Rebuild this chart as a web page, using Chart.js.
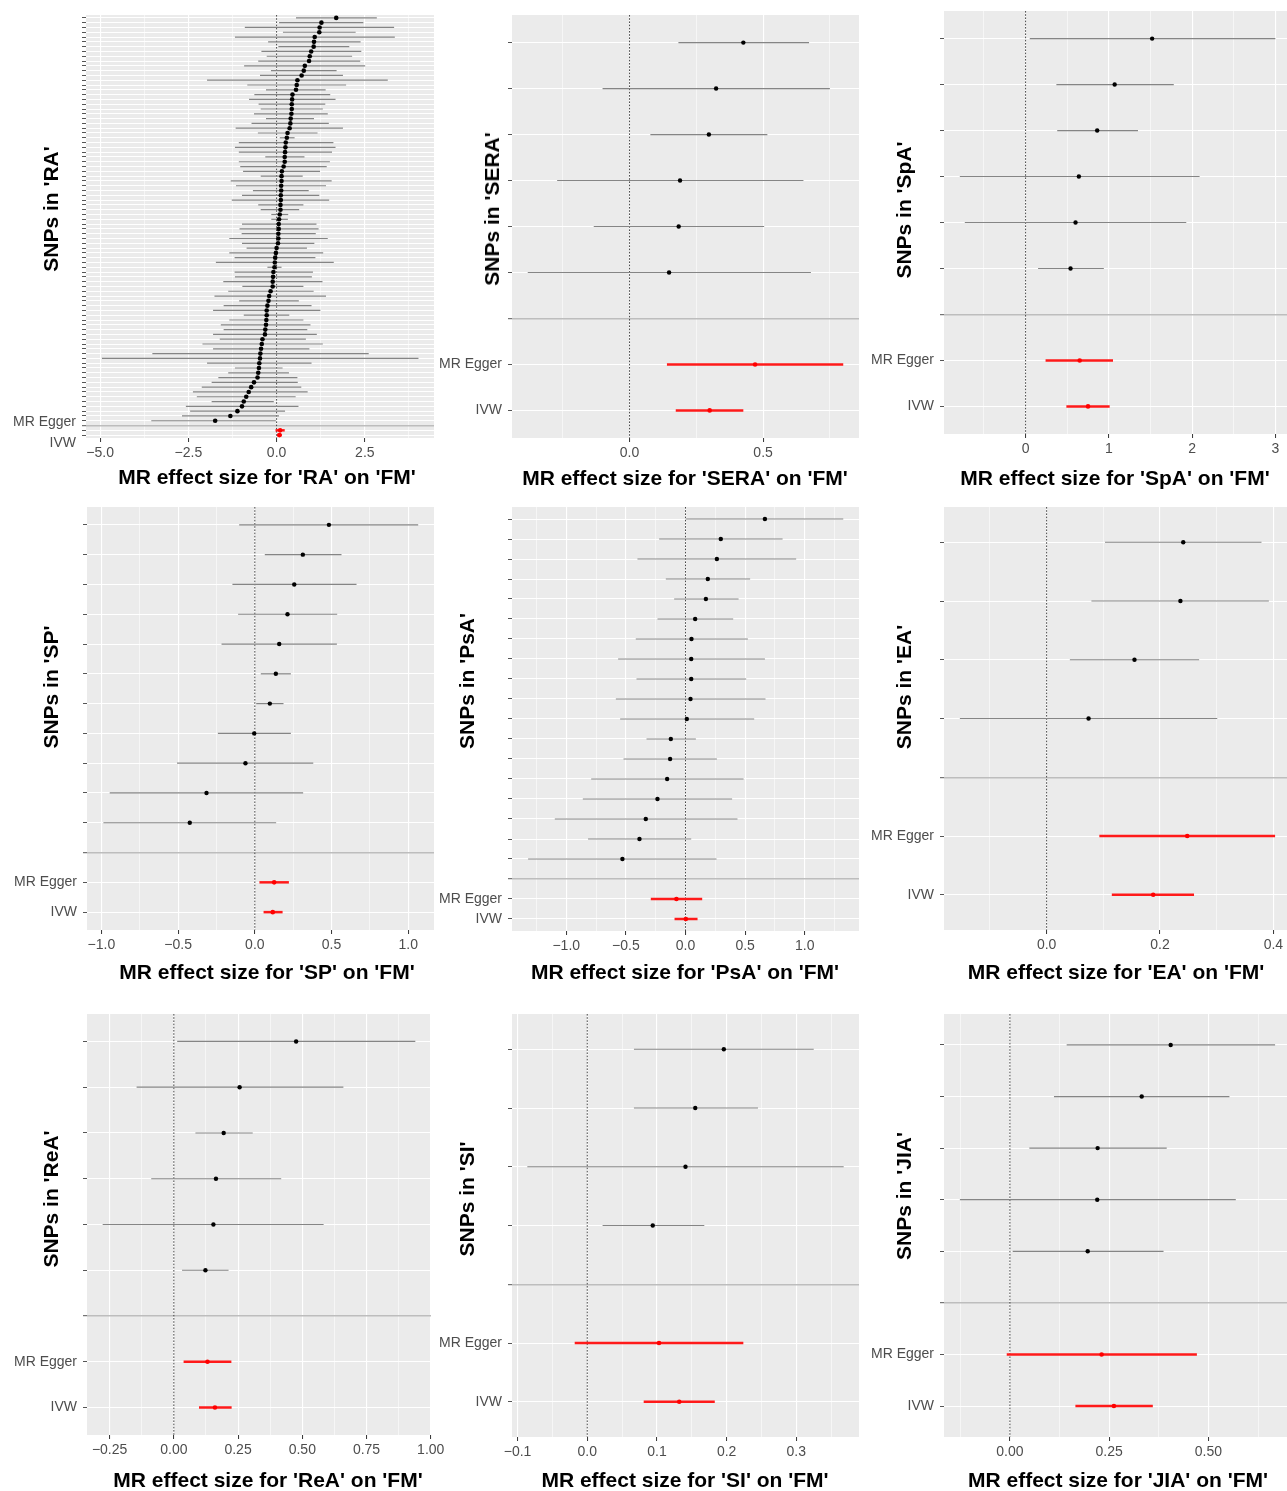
<!DOCTYPE html>
<html><head><meta charset="utf-8">
<script src="https://cdn.jsdelivr.net/npm/chart.js@4.4.1/dist/chart.umd.min.js"></script>
<style>
html,body{margin:0;padding:0;background:#fff;width:1287px;height:1491px;overflow:hidden;}
body{position:relative;}
canvas{position:absolute;}
.xt,.yt{position:absolute;font:bold 21px "Liberation Sans",Arial,sans-serif;color:#000;white-space:nowrap;z-index:5;}
.xt{transform:translate(-50%,-50%);}
.yt{transform:translate(-50%,-50%) rotate(-90deg);}
</style></head><body>
<script>
// ---------------- DATA ----------------
const exposures = ['RA','SERA','SpA','SP','PsA','EA','ReA','SI','JIA'];
const outcome = 'FM';
const methods = ['MR Egger','IVW'];

// RA (85 SNPs, top to bottom)
const RA_b  = [1.69,1.27,1.22,1.21,1.08,1.06,1.05,0.98,0.94,0.92,0.80,0.77,0.71,0.59,0.57,0.55,0.45,0.44,0.43,0.43,0.42,0.40,0.39,0.37,0.31,0.29,0.26,0.25,0.24,0.23,0.23,0.20,0.15,0.14,0.14,0.13,0.13,0.12,0.12,0.11,0.11,0.09,0.07,0.06,0.06,0.05,0.05,0.04,0.00,-0.02,-0.04,-0.05,-0.06,-0.09,-0.10,-0.11,-0.11,-0.17,-0.21,-0.23,-0.26,-0.28,-0.28,-0.29,-0.30,-0.32,-0.33,-0.40,-0.42,-0.44,-0.46,-0.47,-0.49,-0.50,-0.52,-0.54,-0.64,-0.72,-0.79,-0.86,-0.93,-0.98,-1.11,-1.31,-1.74];
const RA_lo = [0.55,0.07,-0.90,0.18,-1.18,-0.24,0.05,-0.43,-0.28,-0.52,-0.92,-0.16,-0.47,-1.97,-0.83,-0.30,-0.63,-0.78,-0.51,-0.45,-0.64,-0.30,-0.71,-1.16,-0.53,0.09,-1.07,-1.18,-1.07,-0.32,-1.07,-1.03,-0.95,-0.45,-1.30,-1.15,-0.67,-0.98,-1.27,-0.52,-0.45,-0.15,-0.15,-0.98,-1.05,-0.99,-1.34,-0.98,-0.85,-1.34,-1.19,-1.72,-0.26,-1.19,-1.18,-1.51,-0.97,-1.37,-1.76,-1.06,-1.50,-1.80,-0.93,-1.34,-1.58,-1.50,-1.80,-1.61,-2.10,-1.80,-3.52,-4.95,-1.97,-1.18,-1.37,-1.65,-1.84,-2.12,-2.37,-2.26,-1.84,-2.57,-2.45,-2.68,-3.55];
const RA_hi = [2.84,2.46,3.33,2.24,3.35,2.38,2.06,2.40,2.14,2.37,2.51,1.70,1.88,3.15,1.97,1.39,1.52,1.67,1.38,1.31,1.45,1.06,1.48,1.88,1.16,0.51,1.61,1.67,1.57,0.79,1.51,1.42,1.23,0.74,1.56,1.40,0.91,1.21,1.49,0.76,0.64,0.33,0.32,1.13,1.19,1.11,1.45,1.07,0.86,1.32,1.10,1.62,0.14,1.03,1.00,1.30,0.76,1.05,1.40,0.63,0.99,1.24,0.36,0.76,0.96,0.87,1.14,0.83,1.31,0.93,2.61,4.02,0.99,0.17,0.35,0.59,0.60,0.70,0.88,0.54,-0.08,0.62,0.24,0.07,-0.02];
const RA_mr_b = [0.10,0.08], RA_mr_lo = [-0.03,0.01], RA_mr_hi = [0.23,0.15];

const SERA_b  = [0.426,0.324,0.297,0.189,0.184,0.148];
const SERA_lo = [0.183,-0.101,0.078,-0.271,-0.134,-0.381];
const SERA_hi = [0.672,0.750,0.516,0.651,0.504,0.679];
const SERA_mr_b = [0.470,0.300], SERA_mr_lo = [0.140,0.173], SERA_mr_hi = [0.800,0.426];

const SpA_b  = [1.52,1.07,0.86,0.64,0.60,0.54];
const SpA_lo = [0.05,0.37,0.38,-0.79,-0.73,0.15];
const SpA_hi = [3.00,1.78,1.35,2.09,1.93,0.94];
const SpA_mr_b = [0.65,0.75], SpA_mr_lo = [0.24,0.49], SpA_mr_hi = [1.05,1.01];

const SP_b  = [0.483,0.313,0.257,0.213,0.159,0.137,0.098,-0.004,-0.061,-0.315,-0.424];
const SP_lo = [-0.102,0.065,-0.146,-0.109,-0.217,0.039,0.009,-0.241,-0.507,-0.946,-0.987];
const SP_hi = [1.065,0.565,0.663,0.537,0.535,0.235,0.187,0.235,0.381,0.315,0.139];
const SP_mr_b = [0.126,0.117], SP_mr_lo = [0.030,0.057], SP_mr_hi = [0.222,0.181];

const PsA_b  = [0.666,0.296,0.263,0.187,0.171,0.081,0.050,0.048,0.048,0.042,0.011,-0.123,-0.129,-0.154,-0.235,-0.333,-0.386,-0.529];
const PsA_lo = [0.000,-0.221,-0.403,-0.165,-0.095,-0.235,-0.417,-0.565,-0.411,-0.584,-0.548,-0.327,-0.520,-0.791,-0.861,-1.096,-0.817,-1.320];
const PsA_hi = [1.323,0.814,0.928,0.542,0.445,0.400,0.523,0.666,0.509,0.671,0.576,0.087,0.263,0.487,0.391,0.436,0.048,0.260];
const PsA_mr_b = [-0.076,0.003], PsA_mr_lo = [-0.291,-0.092], PsA_mr_hi = [0.140,0.101];

const EA_b  = [0.241,0.236,0.155,0.074];
const EA_lo = [0.103,0.079,0.041,-0.153];
const EA_hi = [0.379,0.392,0.269,0.301];
const EA_mr_b = [0.248,0.188], EA_mr_lo = [0.093,0.115], EA_mr_hi = [0.403,0.260];

const ReA_b  = [0.476,0.256,0.194,0.164,0.154,0.123];
const ReA_lo = [0.013,-0.145,0.084,-0.088,-0.277,0.032];
const ReA_hi = [0.940,0.660,0.307,0.418,0.583,0.213];
const ReA_mr_b = [0.131,0.160], ReA_mr_lo = [0.038,0.098], ReA_mr_hi = [0.224,0.225];

const SI_b  = [0.196,0.155,0.141,0.094];
const SI_lo = [0.067,0.067,-0.086,0.022];
const SI_hi = [0.325,0.245,0.368,0.168];
const SI_mr_b = [0.103,0.132], SI_mr_lo = [-0.018,0.081], SI_mr_hi = [0.224,0.183];

const JIA_b  = [0.405,0.332,0.221,0.220,0.196];
const JIA_lo = [0.143,0.111,0.049,-0.126,0.007];
const JIA_hi = [0.668,0.553,0.395,0.569,0.387];
const JIA_mr_b = [0.231,0.262], JIA_mr_lo = [-0.008,0.165], JIA_mr_hi = [0.471,0.360];

// x-axis tick values / labels
const RA_major = [-5,-2.5,0,2.5],            RA_labels = ['\u22125.0','\u22122.5','0.0','2.5'],  RA_minor = [-3.75,-1.25,1.25,3.75];
const SERA_major = [0,0.5],                  SERA_labels = ['0.0','0.5'],                       SERA_minor = [-0.25,0.25,0.75];
const SpA_major = [0,1,2,3],                 SpA_labels = ['0','1','2','3'],                    SpA_minor = [-0.5,0.5,1.5,2.5];
const SP_major = [-1,-0.5,0,0.5,1],          SP_labels = ['\u22121.0','\u22120.5','0.0','0.5','1.0'], SP_minor = [-0.75,-0.25,0.25,0.75];
const PsA_major = [-1,-0.5,0,0.5,1],         PsA_labels = ['\u22121.0','\u22120.5','0.0','0.5','1.0'], PsA_minor = [-1.25,-0.75,-0.25,0.25,0.75,1.25];
const EA_major = [0,0.2,0.4],                EA_labels = ['0.0','0.2','0.4'],                   EA_minor = [-0.1,0.1,0.3];
const ReA_major = [-0.25,0,0.25,0.5,0.75,1], ReA_labels = ['\u22120.25','0.00','0.25','0.50','0.75','1.00'], ReA_minor = [-0.125,0.125,0.375,0.625,0.875];
const SI_major = [-0.1,0,0.1,0.2,0.3],       SI_labels = ['\u22120.1','0.0','0.1','0.2','0.3'], SI_minor = [-0.05,0.05,0.15,0.25,0.35];
const JIA_major = [0,0.25,0.5],              JIA_labels = ['0.00','0.25','0.50'],               JIA_minor = [-0.125,0.125,0.375,0.625];

// ---------------- LAYOUT (plot rectangles, axis ranges, title anchors) ----------------
const panels = [
  {name:'RA',   b:RA_b,lo:RA_lo,hi:RA_hi,mb:RA_mr_b,mlo:RA_mr_lo,mhi:RA_mr_hi, major:RA_major,labels:RA_labels,minor:RA_minor,
   L:86,T:15,R:434,B:438, xmin:-5.4,xmax:4.46, r:2.3, split:true, xt:[267,477], yt:[51,209]},
  {name:'SERA', b:SERA_b,lo:SERA_lo,hi:SERA_hi,mb:SERA_mr_b,mlo:SERA_mr_lo,mhi:SERA_mr_hi, major:SERA_major,labels:SERA_labels,minor:SERA_minor,
   L:512,T:15,R:859,B:438, xmin:-0.44,xmax:0.859, r:2.2, xt:[685,478], yt:[492,209]},
  {name:'SpA',  b:SpA_b,lo:SpA_lo,hi:SpA_hi,mb:SpA_mr_b,mlo:SpA_mr_lo,mhi:SpA_mr_hi, major:SpA_major,labels:SpA_labels,minor:SpA_minor,
   L:944,T:11,R:1287,B:434, xmin:-0.98,xmax:3.14, r:2.2, xt:[1115,478], yt:[904,210]},
  {name:'SP',   b:SP_b,lo:SP_lo,hi:SP_hi,mb:SP_mr_b,mlo:SP_mr_lo,mhi:SP_mr_hi, major:SP_major,labels:SP_labels,minor:SP_minor,
   L:87,T:507,R:434,B:930, xmin:-1.094,xmax:1.168, r:2.2, xt:[267,972], yt:[51,687]},
  {name:'PsA',  b:PsA_b,lo:PsA_lo,hi:PsA_hi,mb:PsA_mr_b,mlo:PsA_mr_lo,mhi:PsA_mr_hi, major:PsA_major,labels:PsA_labels,minor:PsA_minor,
   L:512,T:507,R:859,B:931, xmin:-1.455,xmax:1.455, r:2.2, xt:[685,972], yt:[467,681]},
  {name:'EA',   b:EA_b,lo:EA_lo,hi:EA_hi,mb:EA_mr_b,mlo:EA_mr_lo,mhi:EA_mr_hi, major:EA_major,labels:EA_labels,minor:EA_minor,
   L:944,T:507,R:1287,B:930, xmin:-0.181,xmax:0.424, r:2.2, xt:[1116,972], yt:[904,687]},
  {name:'ReA',  b:ReA_b,lo:ReA_lo,hi:ReA_hi,mb:ReA_mr_b,mlo:ReA_mr_lo,mhi:ReA_mr_hi, major:ReA_major,labels:ReA_labels,minor:ReA_minor,
   L:87,T:1014,R:431,B:1435, xmin:-0.338,xmax:1.001, r:2.2, xt:[268,1480], yt:[51,1199]},
  {name:'SI',   b:SI_b,lo:SI_lo,hi:SI_hi,mb:SI_mr_b,mlo:SI_mr_lo,mhi:SI_mr_hi, major:SI_major,labels:SI_labels,minor:SI_minor,
   L:512,T:1014,R:859,B:1437, xmin:-0.108,xmax:0.390, r:2.2, xt:[685,1480], yt:[467,1199]},
  {name:'JIA',  b:JIA_b,lo:JIA_lo,hi:JIA_hi,mb:JIA_mr_b,mlo:JIA_mr_lo,mhi:JIA_mr_hi, major:JIA_major,labels:JIA_labels,minor:JIA_minor,
   L:944,T:1014,R:1287,B:1437, xmin:-0.166,xmax:0.698, r:2.2, xt:[1118,1480], yt:[904,1196]}
];

const FONT = '"Liberation Sans", Arial, sans-serif';
const YW = 80, PT = 30, PR = 25, XH = 40, PB = 5;

const panelBg = {id:'panelBg', beforeDraw(chart){
  const a = chart.chartArea, c = chart.ctx;
  c.save(); c.fillStyle = '#EBEBEB'; c.fillRect(a.left, a.top, a.right - a.left, a.bottom - a.top); c.restore();
}};
const zeroLine = {id:'zeroLine', beforeDatasetsDraw(chart){
  const a = chart.chartArea, c = chart.ctx;
  const x = chart.scales.x.getPixelForValue(0);
  c.save(); c.strokeStyle = '#333333'; c.lineWidth = 0.9; c.setLineDash([1.6,1.6]);
  c.beginPath(); c.moveTo(x, a.top); c.lineTo(x, a.bottom); c.stroke(); c.restore();
}};

function makePanel(p){
  const n = p.b.length;
  const nRows = n + 1 + methods.length;
  const sep = n;
  const rowLabels = [];
  for (let i = 0; i < n; i++) rowLabels.push('');
  rowLabels.push('');
  methods.forEach((m, k) => {
    if (p.split) rowLabels.push(k === 0 ? [m, ''] : ['', m]);
    else rowLabels.push(m);
  });
  const xt = p.major.map((v, i) => ({v, label: p.labels[i], major: true}))
    .concat(p.minor.map(v => ({v, label: '', major: false})))
    .sort((a, b) => a.v - b.v);

  const W = YW + (p.R - p.L) + PR, H = PT + (p.B - p.T) + XH + PB;
  const cv = document.createElement('canvas');
  cv.width = W; cv.height = H;
  cv.style.left = (p.L - YW) + 'px'; cv.style.top = (p.T - PT) + 'px';
  cv.style.width = W + 'px'; cv.style.height = H + 'px';
  document.body.appendChild(cv);

  new Chart(cv.getContext('2d'), {
    type: 'bar',
    data: { datasets: [
      {type:'line', data: p.b.map((v, i) => ({x: v, y: i})), showLine:false, pointRadius:p.r, pointHoverRadius:0,
       pointBackgroundColor:'#000000', pointBorderWidth:0, borderColor:'#000000', order:1},
      {type:'line', data: p.mb.map((v, k) => ({x: v, y: n + 1 + k})), showLine:false, pointRadius:2.3, pointHoverRadius:0,
       pointBackgroundColor:'#ff0000', pointBorderWidth:0, borderColor:'#ff0000', order:1},
      {type:'bar', data: p.b.map((v, i) => ({y: i, x: [p.lo[i], p.hi[i]]})), backgroundColor:'#858585',
       barThickness:1.2, grouped:false, borderWidth:0, inflateAmount:0, order:3},
      {type:'bar', data: p.mb.map((v, k) => ({y: n + 1 + k, x: [p.mlo[k], p.mhi[k]]})), backgroundColor:'#ff1a1a',
       barThickness:2.5, grouped:false, borderWidth:0, inflateAmount:0, order:2}
    ]},
    options: {
      indexAxis: 'y', responsive: false, animation: false, devicePixelRatio: 1, events: [],
      layout: {padding: {top: PT, right: PR, bottom: PB, left: 0}},
      plugins: {legend: {display: false}, tooltip: {enabled: false}},
      scales: {
        x: {
          type: 'linear', min: p.xmin, max: p.xmax, bounds: 'data', offset: false,
          afterBuildTicks: s => { s.ticks = xt.map(t => ({value: t.v})); },
          afterFit: s => { s.height = XH; },
          ticks: {autoSkip: false, maxRotation: 0, minRotation: 0, padding: 3, color: '#4D4D4D',
                  font: {family: FONT, size: 14}, callback: (v, i) => (xt[i] ? xt[i].label : '')},
          grid: {offset: false, color: '#FFFFFF',
                 lineWidth: c => (xt[c.index] && xt[c.index].major ? 1.1 : 0.55),
                 tickColor: c => (xt[c.index] && xt[c.index].major ? '#333333' : 'rgba(0,0,0,0)'),
                 tickLength: 4, tickWidth: 1},
          border: {display: false}
        },
        y: {
          type: 'linear', reverse: true, min: -0.6, max: nRows - 1 + 0.6, bounds: 'data', offset: false,
          afterBuildTicks: s => { s.ticks = rowLabels.map((_, i) => ({value: i})); },
          afterFit: s => { s.width = YW; },
          ticks: {autoSkip: false, padding: 6, color: '#4D4D4D',
                  font: {family: FONT, size: 14, lineHeight: p.split ? 1.15 : 1.2},
                  callback: (v, i) => rowLabels[i]},
          grid: {offset: false,
                 color: c => (c.index === sep ? '#BDBDBD' : '#FFFFFF'),
                 lineWidth: c => (c.index === sep ? 1.4 : 1.0),
                 tickColor: '#555555', tickLength: 4, tickWidth: 1},
          border: {display: false}
        }
      }
    },
    plugins: [panelBg, zeroLine]
  });

  const tx = document.createElement('div');
  tx.className = 'xt';
  tx.textContent = "MR effect size for '" + p.name + "' on '" + outcome + "'";
  tx.style.left = p.xt[0] + 'px'; tx.style.top = p.xt[1] + 'px';
  document.body.appendChild(tx);
  const ty = document.createElement('div');
  ty.className = 'yt';
  ty.textContent = "SNPs in '" + p.name + "'";
  ty.style.left = p.yt[0] + 'px'; ty.style.top = p.yt[1] + 'px';
  document.body.appendChild(ty);
}

panels.forEach(makePanel);
</script>
</body></html>
